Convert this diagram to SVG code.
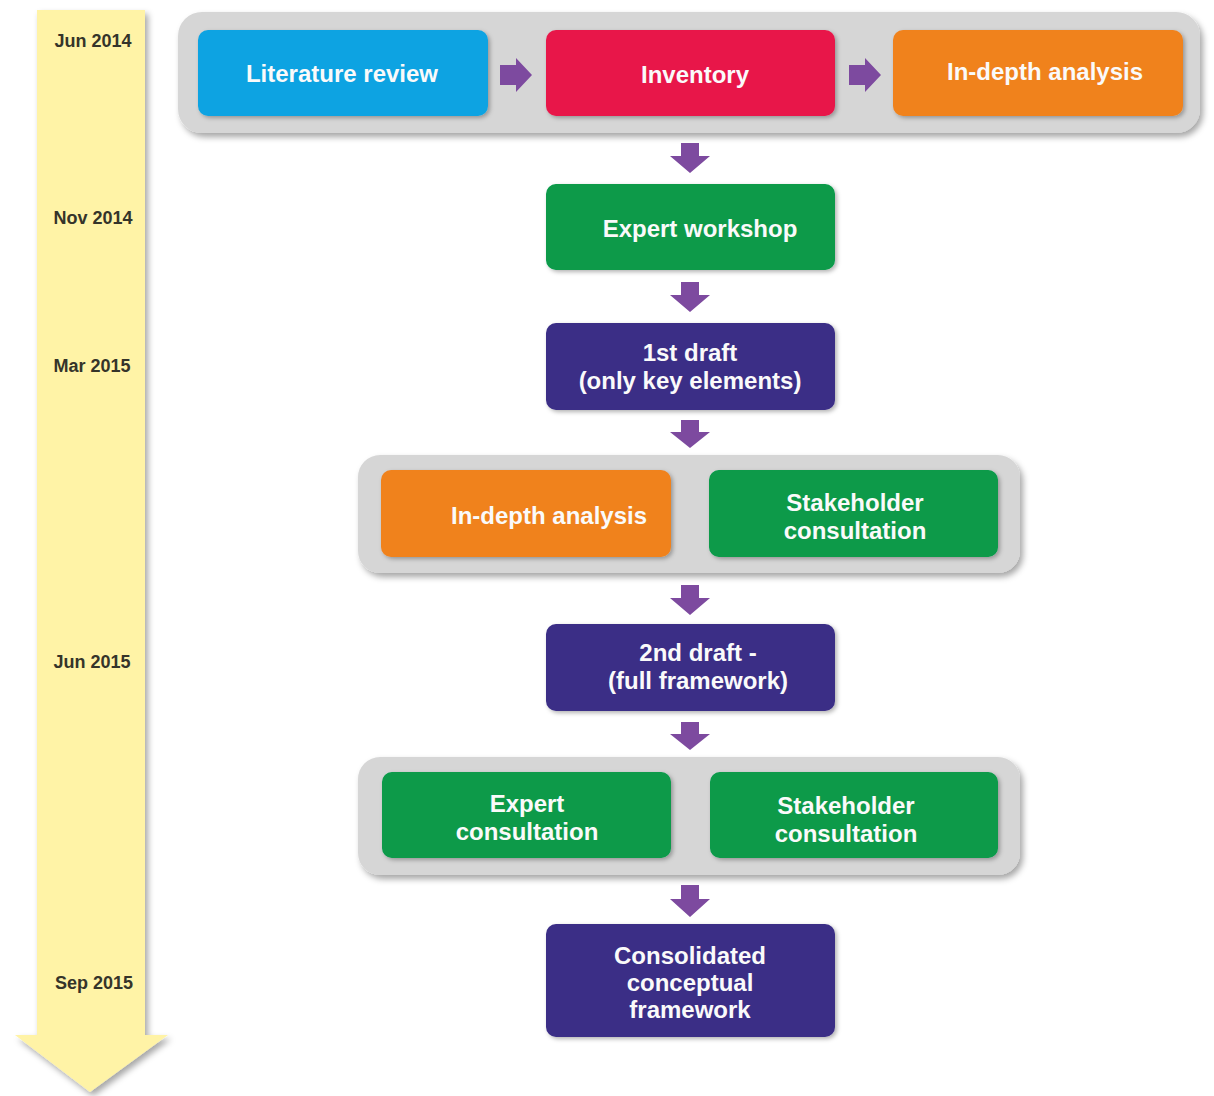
<svg xmlns="http://www.w3.org/2000/svg" width="1214" height="1096" viewBox="0 0 1214 1096">
<defs>
<filter id="sh" x="-10%" y="-10%" width="125%" height="130%">
<feDropShadow dx="3" dy="4" stdDeviation="3" flood-color="#000" flood-opacity="0.35"/>
</filter>
<filter id="shs" x="-10%" y="-10%" width="125%" height="130%">
<feDropShadow dx="2" dy="2" stdDeviation="2" flood-color="#000" flood-opacity="0.3"/>
</filter>
<style>
.box{filter:url(#shs)}
.cont{fill:#d6d6d6;filter:url(#sh)}
.blue{fill:#0ea3e2}
.red{fill:#e8174a}
.orange{fill:#f0821e}
.green{fill:#079a48}
.navy{fill:#3a2d86}
.t{font-family:"Liberation Sans",Arial,sans-serif;font-weight:bold;font-size:24px;fill:#fafafa;text-anchor:middle}
.d{font-family:"Liberation Sans",Arial,sans-serif;font-weight:bold;font-size:18px;fill:#35342a;text-anchor:middle}
.arr{fill:#7d4a9f}
</style>
</defs>
<rect width="1214" height="1096" fill="#fff"/>

<g id="timeline">
<path d="M37,10 H145 V1035 H168 L90,1092 L15,1035 H37 Z" fill="#fff3a6" filter="url(#sh)"/>
<text class="d" x="93" y="47">Jun 2014</text>
<text class="d" x="93" y="224">Nov 2014</text>
<text class="d" x="92" y="372">Mar 2015</text>
<text class="d" x="92" y="668">Jun 2015</text>
<text class="d" x="94" y="989">Sep 2015</text>
</g>

<g id="group1">
<rect class="cont" x="178" y="12" width="1022" height="121" rx="24"/>
</g>
<g id="group2">
<rect class="cont" x="358" y="455" width="662" height="118" rx="22"/>
</g>
<g id="group3">
<rect class="cont" x="358" y="757" width="662" height="118" rx="22"/>
</g>

<g id="literature-review">
<rect class="box blue" x="198" y="30" width="290" height="86" rx="10"/>
<text class="t" x="342" y="82">Literature review</text>
</g>
<g id="inventory">
<rect class="box red" x="546" y="30" width="289" height="86" rx="10"/>
<text class="t" x="695" y="83">Inventory</text>
</g>
<g id="indepth1">
<rect class="box orange" x="893" y="30" width="290" height="86" rx="10"/>
<text class="t" x="1045" y="80">In-depth analysis</text>
</g>
<g id="expert-workshop">
<rect class="box green" x="546" y="184" width="289" height="86" rx="10"/>
<text class="t" x="700" y="237">Expert workshop</text>
</g>
<g id="draft1">
<rect class="box navy" x="546" y="323" width="289" height="87" rx="10"/>
<text class="t" x="690" y="361">1st draft</text>
<text class="t" x="690" y="389">(only key elements)</text>
</g>
<g id="indepth2">
<rect class="box orange" x="381" y="470" width="290" height="87" rx="10"/>
<text class="t" x="549" y="524">In-depth analysis</text>
</g>
<g id="stakeholder1">
<rect class="box green" x="709" y="470" width="289" height="87" rx="10"/>
<text class="t" x="855" y="511">Stakeholder</text>
<text class="t" x="855" y="539">consultation</text>
</g>
<g id="draft2">
<rect class="box navy" x="546" y="624" width="289" height="87" rx="10"/>
<text class="t" x="698" y="661">2nd draft -</text>
<text class="t" x="698" y="689">(full framework)</text>
</g>
<g id="expert-consultation">
<rect class="box green" x="382" y="772" width="289" height="86" rx="10"/>
<text class="t" x="527" y="812">Expert</text>
<text class="t" x="527" y="840">consultation</text>
</g>
<g id="stakeholder2">
<rect class="box green" x="710" y="772" width="288" height="86" rx="10"/>
<text class="t" x="846" y="814">Stakeholder</text>
<text class="t" x="846" y="842">consultation</text>
</g>
<g id="consolidated">
<rect class="box navy" x="546" y="924" width="289" height="113" rx="10"/>
<text class="t" x="690" y="964">Consolidated</text>
<text class="t" x="690" y="991">conceptual</text>
<text class="t" x="690" y="1018">framework</text>
</g>

<g id="connectors">
<path class="arr" d="M500,65 H516 V58 L532,75 L516,92 V85 H500 Z"/>
<path class="arr" d="M849,65 H865 V58 L881,75 L865,92 V85 H849 Z"/>
<path class="arr" d="M681,143 H699 V156 H710 L690,173 L670,156 H681 Z"/>
<path class="arr" d="M681,282 H699 V295 H710 L690,312 L670,295 H681 Z"/>
<path class="arr" d="M681,420 H699 V432 H710 L690,448 L670,432 H681 Z"/>
<path class="arr" d="M681,585 H699 V598 H710 L690,615 L670,598 H681 Z"/>
<path class="arr" d="M681,722 H699 V734 H710 L690,750 L670,734 H681 Z"/>
<path class="arr" d="M681,885 H699 V899 H710 L690,917 L670,899 H681 Z"/>
</g>
</svg>
